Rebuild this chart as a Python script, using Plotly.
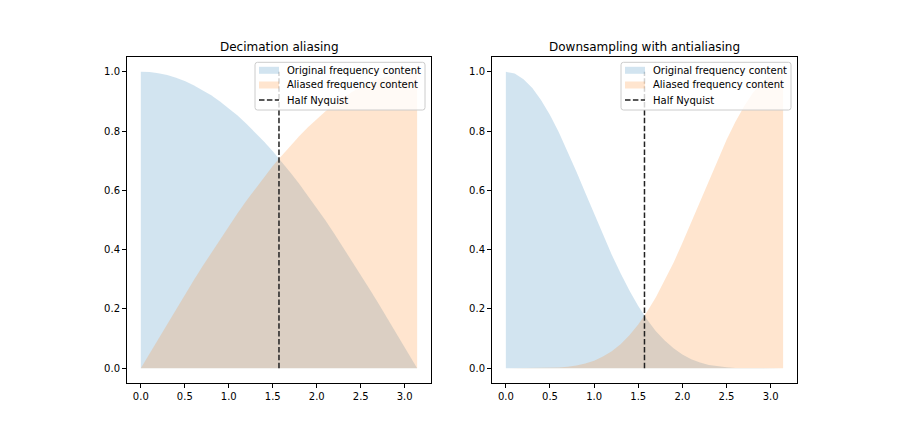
import plotly.graph_objects as go

# frequency axis (radians)
freq = [0.0, 0.1, 0.2, 0.3, 0.4, 0.5, 0.6, 0.7, 0.8, 0.9, 1.0, 1.1, 1.2, 1.3, 1.4, 1.5,
        1.571, 1.6, 1.7, 1.8, 1.9, 2.0, 2.1, 2.2, 2.3, 2.4, 2.5, 2.6, 2.7, 2.8, 2.9, 3.0, 3.1, 3.1416]

# Left panel: decimation aliasing
dec_original = [1.000, 0.999, 0.995, 0.989, 0.980, 0.969, 0.955, 0.939, 0.921, 0.900, 0.878, 0.853,
                0.825, 0.796, 0.765, 0.732, 0.707, 0.697, 0.660, 0.622, 0.582, 0.540, 0.498, 0.454,
                0.408, 0.362, 0.315, 0.267, 0.219, 0.170, 0.121, 0.071, 0.021, 0.000]
dec_aliased = [0.000, 0.050, 0.100, 0.149, 0.199, 0.247, 0.296, 0.343, 0.389, 0.435, 0.479, 0.523,
               0.565, 0.605, 0.644, 0.682, 0.707, 0.717, 0.751, 0.783, 0.813, 0.841, 0.867, 0.891,
               0.913, 0.932, 0.949, 0.964, 0.976, 0.985, 0.993, 0.998, 1.000, 1.000]

# Right panel: downsampling with antialiasing
aa_original = [1.000, 0.994, 0.975, 0.945, 0.904, 0.854, 0.796, 0.731, 0.663, 0.592, 0.521, 0.450,
               0.383, 0.320, 0.262, 0.210, 0.177, 0.164, 0.125, 0.093, 0.067, 0.046, 0.030, 0.019,
               0.011, 0.006, 0.003, 0.001, 0.001, 0.000, 0.000, 0.000, 0.000, 0.000]
aa_aliased = [0.000, 0.000, 0.000, 0.000, 0.000, 0.001, 0.002, 0.005, 0.009, 0.016, 0.025, 0.039,
              0.057, 0.081, 0.111, 0.147, 0.177, 0.190, 0.239, 0.295, 0.356, 0.422, 0.491, 0.562,
              0.634, 0.703, 0.770, 0.831, 0.884, 0.929, 0.964, 0.988, 0.999, 1.000]

half_nyquist = 1.5708
titles = ["Decimation aliasing", "Downsampling with antialiasing"]
labels = ["Original frequency content", "Aliased frequency content", "Half Nyquist"]

BLUE = "rgba(31,119,180,0.2)"
ORANGE = "rgba(255,127,14,0.2)"
DASH_COLOR = "#222222"

W, H = 900, 438
OFF = 8  # page body margin in the browser


def px(vx):
    return (vx - OFF) / W


def py(vy):
    return 1 - (vy - OFF) / H


axes_px = [(127, 431), (492, 797)]
top_px, bot_px = 57, 383
xdoms = [[px(a), px(b)] for a, b in axes_px]
ydom = [py(bot_px), py(top_px)]

fig = go.Figure()
panels = [(dec_original, dec_aliased), (aa_original, aa_aliased)]
for i, (orig, alias) in enumerate(panels):
    xa = "x" if i == 0 else "x2"
    ya = "y" if i == 0 else "y2"
    fig.add_trace(go.Scatter(x=freq, y=orig, fill="tozeroy", fillcolor=BLUE, mode="lines",
                             line=dict(width=0, color=BLUE), name=labels[0], xaxis=xa, yaxis=ya,
                             hoverinfo="skip"))
    fig.add_trace(go.Scatter(x=freq, y=alias, fill="tozeroy", fillcolor=ORANGE, mode="lines",
                             line=dict(width=0, color=ORANGE), name=labels[1], xaxis=xa, yaxis=ya,
                             hoverinfo="skip"))
    fig.add_trace(go.Scatter(x=[half_nyquist, half_nyquist], y=[0, 1], mode="lines",
                             line=dict(color=DASH_COLOR, width=1.5, dash="5.5px,2.4px"), name=labels[2],
                             xaxis=xa, yaxis=ya))

axis_common = dict(showline=True, linecolor="black", linewidth=1, mirror=True, ticks="outside",
                   ticklen=4, tickcolor="black", tickfont=dict(size=10, color="black"),
                   showgrid=False, zeroline=False)

layout = dict(
    width=W, height=H, margin=dict(l=0, r=0, t=0, b=0),
    paper_bgcolor="white", plot_bgcolor="white",
    font=dict(family="DejaVu Sans", size=10, color="black"),
    showlegend=False,
)
for i in range(2):
    sx = "" if i == 0 else "2"
    layout["xaxis" + sx] = dict(domain=xdoms[i], range=[-0.157, 3.299], tickvals=[0, 0.5, 1, 1.5, 2, 2.5, 3],
                                tickformat=".1f", anchor="y" + sx, **axis_common)
    layout["yaxis" + sx] = dict(domain=ydom, range=[-0.05, 1.05], tickvals=[0, 0.2, 0.4, 0.6, 0.8, 1.0],
                                tickformat=".1f", anchor="x" + sx, **axis_common)
fig.update_layout(**layout)

shapes = []
for i in range(2):
    left, right = axes_px[i]
    # title
    fig.add_annotation(x=px((left + right) / 2), y=py(46.7), xref="paper", yref="paper",
                       text=titles[i], showarrow=False, xanchor="center", yanchor="middle",
                       font=dict(size=12, color="black"))
    # legend (drawn in the matplotlib style)
    bx1 = right - 6
    bx0 = bx1 - 170
    by0, by1 = 62.3, 110
    r = 2.5
    path = (f"M {px(bx0 + r)} {py(by0)} L {px(bx1 - r)} {py(by0)} "
            f"Q {px(bx1)} {py(by0)} {px(bx1)} {py(by0 + r)} L {px(bx1)} {py(by1 - r)} "
            f"Q {px(bx1)} {py(by1)} {px(bx1 - r)} {py(by1)} L {px(bx0 + r)} {py(by1)} "
            f"Q {px(bx0)} {py(by1)} {px(bx0)} {py(by1 - r)} L {px(bx0)} {py(by0 + r)} "
            f"Q {px(bx0)} {py(by0)} {px(bx0 + r)} {py(by0)} Z")
    shapes.append(dict(type="path", xref="paper", yref="paper", path=path,
                       fillcolor="rgba(255,255,255,0.8)", line=dict(color="#cccccc", width=1)))
    hx0, hx1 = bx0 + 4, bx0 + 24
    rows = [70.3, 85.0, 100.0]
    shapes.append(dict(type="rect", xref="paper", yref="paper", x0=px(hx0), x1=px(hx1),
                       y0=py(rows[0] - 3.5), y1=py(rows[0] + 3.5), fillcolor=BLUE, line=dict(width=0)))
    shapes.append(dict(type="rect", xref="paper", yref="paper", x0=px(hx0), x1=px(hx1),
                       y0=py(rows[1] - 3.5), y1=py(rows[1] + 3.5), fillcolor=ORANGE, line=dict(width=0)))
    shapes.append(dict(type="line", xref="paper", yref="paper", x0=px(hx0), x1=px(hx1),
                       y0=py(rows[2]), y1=py(rows[2]),
                       line=dict(color=DASH_COLOR, width=1.5, dash="5.5px,2.4px")))
    for lab, ry in zip(labels, rows):
        fig.add_annotation(x=px(hx1 + 5.5), y=py(ry), xref="paper", yref="paper", text=lab,
                           showarrow=False, xanchor="left", yanchor="middle",
                           font=dict(size=10, color="black"))
fig.update_layout(shapes=shapes)

fig.write_html("out.html")
